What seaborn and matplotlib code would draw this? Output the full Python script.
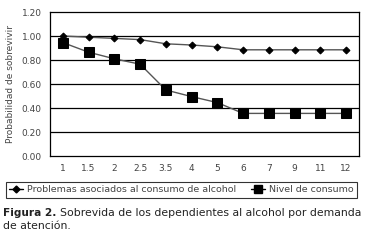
import matplotlib
matplotlib.use("Agg")
import matplotlib.pyplot as plt
import seaborn as sns
import pandas as pd
from matplotlib.lines import Line2D

categories = ["1", "1.5", "2", "2.5", "3.5", "4", "5", "6", "7", "9", "11", "12"]
problemas = [1.00, 0.99, 0.98, 0.97, 0.935, 0.925, 0.91, 0.885, 0.885, 0.885, 0.885, 0.885]
nivel = [0.945, 0.865, 0.81, 0.765, 0.55, 0.495, 0.445, 0.355, 0.355, 0.355, 0.355, 0.355]
yticks = [0.0, 0.2, 0.4, 0.6, 0.8, 1.0, 1.2]
label_a = "Problemas asociados al consumo de alcohol"
label_b = "Nivel de consumo"

sns.set_style("white")
plt.rcParams["font.family"] = ["DejaVu Sans"]

df = pd.DataFrame({"x": categories, "a": problemas, "b": nivel})

fig = plt.figure(figsize=(3.71, 2.5), dpi=100)
ax = fig.add_axes([50/371, 1-156/250, (359-50)/371, (156-12)/250])

text_c = "#444444"
line_c = "#555555"

sns.lineplot(data=df, x="x", y="a", ax=ax, color=line_c, lw=1.0, marker="D",
             markersize=3.5, markerfacecolor="black", markeredgecolor="black", sort=False)
sns.lineplot(data=df, x="x", y="b", ax=ax, color=line_c, lw=1.0, marker="s",
             markersize=6.5, markerfacecolor="black", markeredgecolor="black", sort=False)

ax.set_xlim(-0.5, len(categories) - 0.5)
ax.set_ylim(0, 1.2)
ax.set_yticks(yticks)
ax.set_yticklabels([f"{v:.2f}" for v in yticks])
ax.set_xticks(range(len(categories)))
ax.set_xticklabels(categories)
ax.tick_params(axis="both", length=0, labelsize=6.5, labelcolor=text_c, pad=6)
ax.set_xlabel("")
ax.set_ylabel("Probabilidad de sobrevivir", fontsize=6.5, color=text_c, labelpad=5)
for y in yticks[1:-1]:
    ax.axhline(y, color="black", lw=0.9, zorder=0)
for s in ax.spines.values():
    s.set_visible(True)
    s.set_color("black")
    s.set_linewidth(0.9)

handles = [
    Line2D([0], [0], color="black", lw=1, marker="D", markersize=3.5),
    Line2D([0], [0], color="black", lw=1, marker="s", markersize=6),
]
leg = fig.legend(handles, [label_a, label_b], loc="center", bbox_to_anchor=(181.5/371, 1-190/250),
                 ncol=2, fontsize=6.8, frameon=True, fancybox=False, edgecolor="black",
                 handlelength=1.5, handletextpad=0.4, columnspacing=1.6, borderpad=0.35)
leg.get_frame().set_linewidth(0.8)
for t in leg.get_texts():
    t.set_color(text_c)

fig.text(3/371, 1-213/250, "Figura 2.", fontsize=7.6, fontweight="bold", color="#222222", va="center")
fig.text(60/371, 1-213/250, "Sobrevida de los dependientes al alcohol por demanda",
         fontsize=7.8, color="#222222", va="center")
fig.text(3/371, 1-226/250, "de atención.", fontsize=7.8, color="#222222", va="center")

fig.savefig("out.png", dpi=100)
